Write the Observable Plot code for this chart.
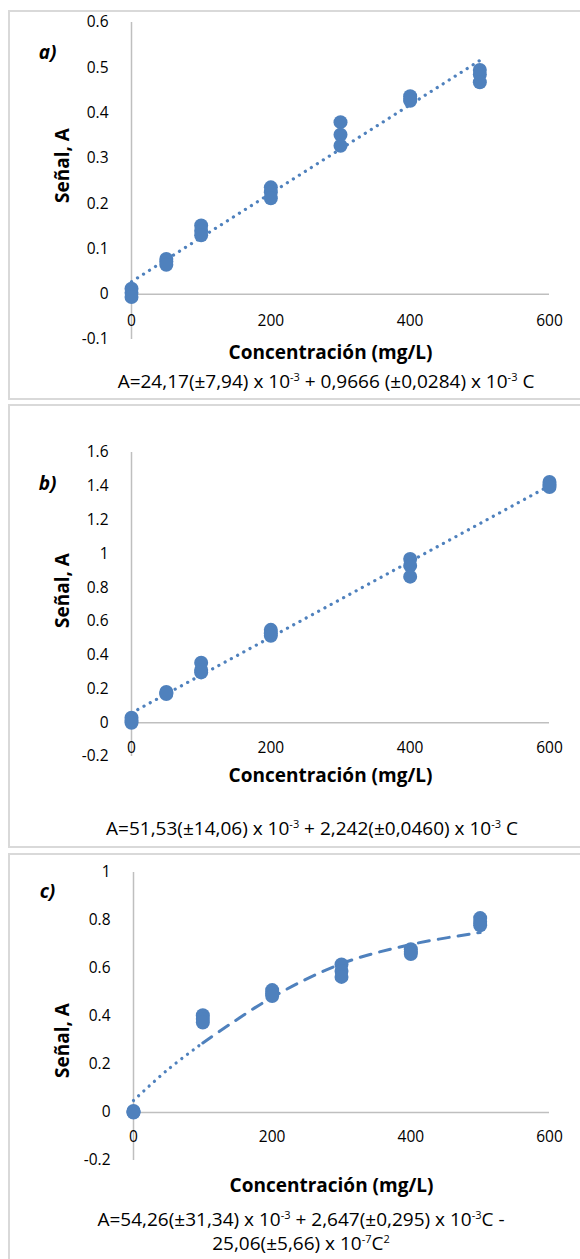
<!DOCTYPE html>
<html><head><meta charset="utf-8">
<script src="https://cdn.jsdelivr.net/npm/d3@7"></script>
<script src="https://cdn.jsdelivr.net/npm/@observablehq/plot@0.6"></script>
<style>
body{margin:0;width:580px;height:1259px;overflow:hidden;position:relative;background:#fff;font-family:"Open Sans",sans-serif;}
.panel{position:absolute;left:8px;width:620px;border:2px solid #d9d9d9;box-sizing:border-box;background:#fff;}
.panel .plot{position:absolute;left:0;top:0;}
.eq{position:absolute;width:600px;text-align:center;font-family:"Open Sans",sans-serif;font-size:19px;line-height:24px;color:#000;white-space:nowrap;}
.eq sup{font-size:11px;vertical-align:7px;line-height:0;}
</style></head>
<body>
<div class="panel" id="pa" style="top:10px;height:390px;"><div class="plot"></div><div class="eq" style="left:16px;top:357px;">A=24,17(±7,94) x 10<sup>-3</sup> + 0,9666 (±0,0284) x 10<sup>-3</sup> C</div></div>
<div class="panel" id="pb" style="top:404px;height:444px;"><div class="plot"></div><div class="eq" style="left:2px;top:410px;">A=51,53(±14,06) x 10<sup>-3</sup> + 2,242(±0,0460) x 10<sup>-3</sup> C</div></div>
<div class="panel" id="pc" style="top:853px;height:430px;"><div class="plot"></div><div class="eq" style="left:-9px;top:352px;">A=54,26(±31,34) x 10<sup>-3</sup> + 2,647(±0,295) x 10<sup>-3</sup>C -<br>25,06(±5,66) x 10<sup>-7</sup>C<sup>2</sup></div></div>
<script>
// ---- data ----
const xTicks = [0, 200, 400, 600];
const yTicksA = [-0.1, 0, 0.1, 0.2, 0.3, 0.4, 0.5, 0.6];
const yTicksB = [-0.2, 0, 0.2, 0.4, 0.6, 0.8, 1, 1.2, 1.4, 1.6];
const yTicksC = [-0.2, 0, 0.2, 0.4, 0.6, 0.8, 1];

const concA   = [0, 0, 0, 50, 50, 50, 100, 100, 100, 200, 200, 200, 300, 300, 300, 400, 400, 400, 500, 500, 500];
const signalA = [0.012, 0.003, -0.006, 0.078, 0.072, 0.065, 0.152, 0.140, 0.130, 0.236, 0.225, 0.212, 0.380, 0.352, 0.328, 0.437, 0.431, 0.427, 0.495, 0.485, 0.468];

const concB   = [0, 0, 0, 50, 50, 50, 100, 100, 100, 200, 200, 200, 400, 400, 400, 600, 600, 600];
const signalB = [0.03, 0.012, 0.0, 0.182, 0.176, 0.17, 0.355, 0.312, 0.298, 0.55, 0.53, 0.515, 0.97, 0.93, 0.865, 1.425, 1.41, 1.395];

const concC   = [0, 0, 0, 100, 100, 100, 200, 200, 200, 300, 300, 300, 400, 400, 400, 500, 500, 500];
const signalC = [0.006, 0.002, 0.0, 0.405, 0.39, 0.375, 0.51, 0.497, 0.485, 0.617, 0.59, 0.565, 0.68, 0.67, 0.66, 0.81, 0.795, 0.78];

// quadratic trend of panel c
const trendCx = [0, 50, 100, 200, 300, 400, 500];
const trendCy = [0.05, 0.18, 0.29, 0.48, 0.62, 0.70, 0.75];

const BLUE = "#4f81bd", AXIS = "#bfbfbf";
const fmt = d => String(+d.toFixed(1));

function panel(o) {
  const data = o.conc.map((c, i) => ({c, s: o.signal[i]}));
  return Plot.plot({
    width: 600, height: o.height,
    marginTop: o.mt, marginBottom: o.mb, marginLeft: o.ml, marginRight: o.mr,
    style: {fontFamily: "'Open Sans', sans-serif", fontSize: "15.5px", color: "#000", background: "transparent", overflow: "visible"},
    x: {domain: [0, 600], axis: null},
    y: {domain: [o.yTicks[0], o.yTicks[o.yTicks.length - 1]], axis: null},
    marks: [
      Plot.axisY(o.yTicks, {tickSize: 0, tickPadding: 23, tickFormat: fmt, label: null, fill: "#000"}),
      Plot.ruleX([0], {y1: o.yTicks[0], y2: o.yTicks[o.yTicks.length - 1], stroke: AXIS, strokeWidth: 1.5}),
      Plot.ruleY([0], {x1: 0, x2: 600, stroke: AXIS, strokeWidth: 1.5}),
      Plot.text(xTicks, {x: d => d, y: 0, dy: o.xtickDy, text: d => String(d), fill: "#000"}),
      ...o.trend(data),
      Plot.dot(data, {x: "c", y: "s", r: 7, fill: BLUE}),
      Plot.text(["Concentración (mg/L)"], {frameAnchor: "bottom", textAnchor: "middle", lineAnchor: "middle", dx: -10, dy: o.xlabelDy, fontWeight: "bold", fontSize: 19, fill: "#000"}),
      Plot.text(["Señal, A"], {frameAnchor: "top-left", textAnchor: "middle", lineAnchor: "middle", dx: o.ylabelDx, dy: o.ylabelDy, rotate: -90, fontWeight: "bold", fontSize: 19, fill: "#000"}),
      Plot.text([o.letter], {frameAnchor: "top-left", textAnchor: "middle", lineAnchor: "middle", dx: o.letterDx, dy: o.letterDy, fontWeight: "bold", fontStyle: "italic", fontSize: 19, fill: "#000"})
    ]
  });
}

const dotted = {stroke: BLUE, strokeWidth: 3.2, strokeDasharray: "0.1 7", strokeLinecap: "round"};

document.querySelector("#pa .plot").append(panel({
  conc: concA, signal: signalA, yTicks: yTicksA,
  height: 360, mt: 10, mb: 33, ml: 121, mr: 61,
  xtickDy: 27, xlabelDy: 13, ylabelDx: -69, ylabelDy: 143,
  letter: "a)", letterDx: -84, letterDy: 30,
  trend: data => [Plot.linearRegressionY(data, {x: "c", y: "s", ci: 0, ...dotted})]
}));

document.querySelector("#pb .plot").append(panel({
  conc: concB, signal: signalB, yTicks: yTicksB,
  height: 400, mt: 46, mb: 50, ml: 121, mr: 61,
  xtickDy: 25, xlabelDy: 19, ylabelDx: -69, ylabelDy: 138,
  letter: "b)", letterDx: -84, letterDy: 31,
  trend: data => [Plot.linearRegressionY(data, {x: "c", y: "s", ci: 0, ...dotted})]
}));

document.querySelector("#pc .plot").append(panel({
  conc: concC, signal: signalC, yTicks: yTicksC,
  height: 340, mt: 17, mb: 35, ml: 123, mr: 61,
  xtickDy: 25, xlabelDy: 25, ylabelDx: -71, ylabelDy: 168,
  letter: "c)", letterDx: -86, letterDy: 19,
  trend: () => [
    Plot.line(trendCx.slice(0, 3).map((x, i) => ({x, y: trendCy[i]})), {x: "x", y: "y", curve: "catmull-rom", ...dotted}),
    Plot.line(trendCx.slice(2).map((x, i) => ({x, y: trendCy[i + 2]})), {x: "x", y: "y", curve: "catmull-rom", stroke: BLUE, strokeWidth: 3, strokeDasharray: "11 9"})
  ]
}));
</script>
</body></html>
